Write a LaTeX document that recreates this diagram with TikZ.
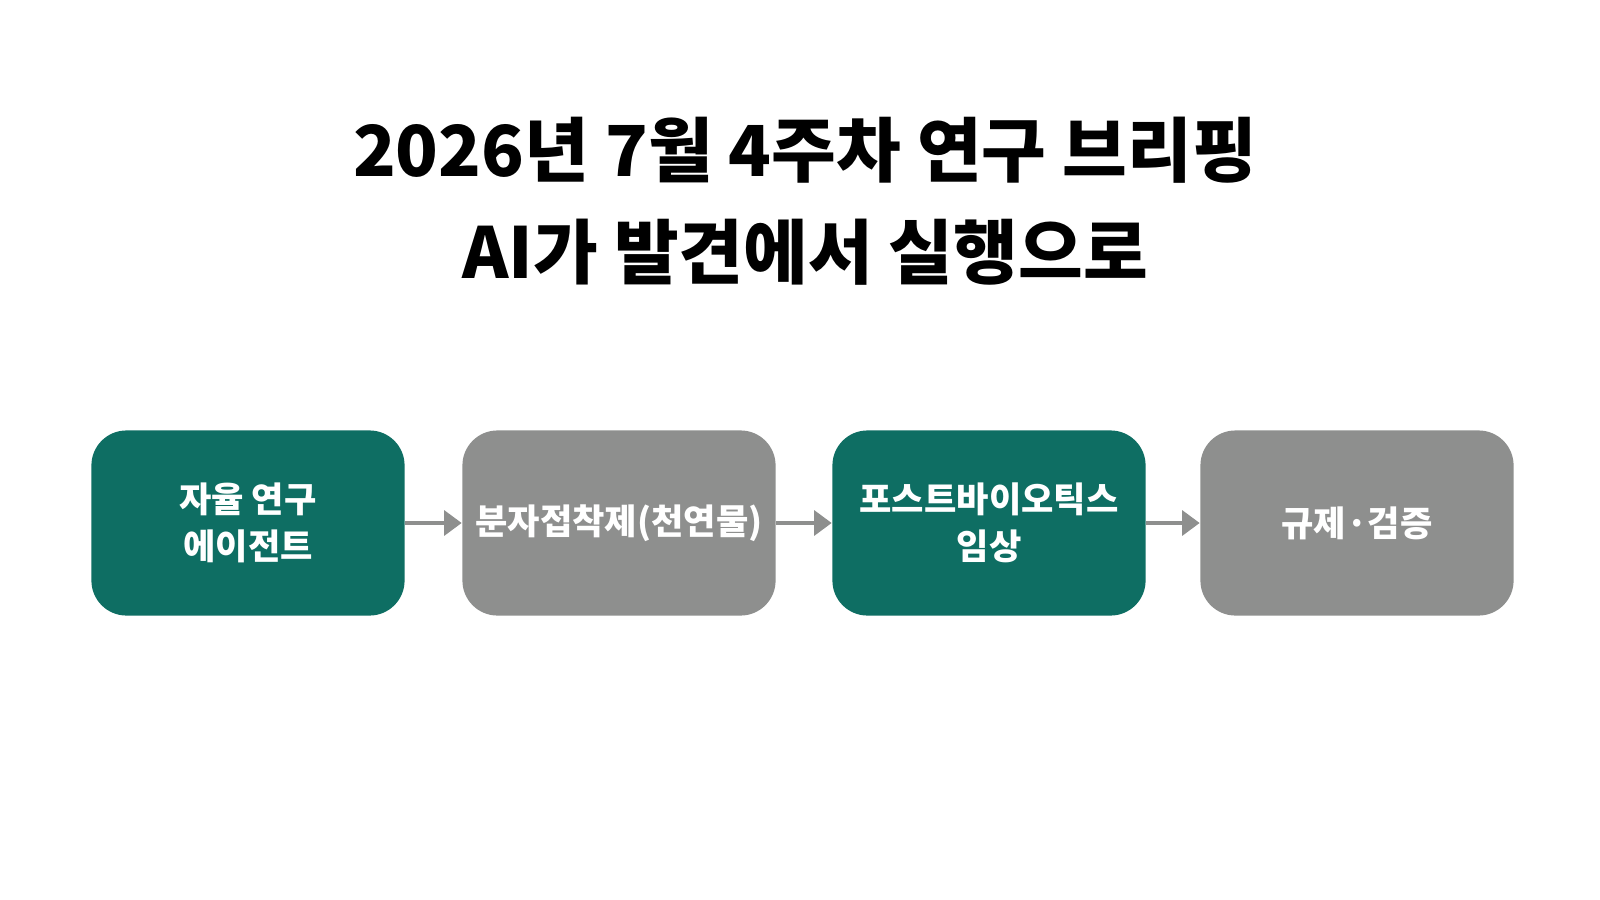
\documentclass[tikz,border=0pt]{standalone}
\usepackage{fontspec}
\setmainfont{Noto Sans CJK KR}
\usetikzlibrary{arrows.meta}
\definecolor{teal}{HTML}{0E6E63}
\definecolor{gry}{HTML}{8E8F8E}
\begin{document}
\begin{tikzpicture}[x=0.01cm,y=-0.01cm,
  box/.style={draw=none,rounded corners=0.35cm,inner sep=0pt,minimum width=3.13cm,minimum height=1.85cm,text=white,align=center,font=\fontsize{10}{13.5}\selectfont\bfseries},
  arr/.style={draw=gry,line width=1.3pt,-{Triangle[length=5pt,width=7pt]}}]
\useasboundingbox (0,0) rectangle (1600,900);
\fill[white] (0,0) rectangle (1600,900);
\node (t1) at (805,150) {\fontsize{20}{24}\selectfont\bfseries 2026년 7월 4주차 연구 브리핑};
\node (t2) at (805,252) {\fontsize{20}{24}\selectfont\bfseries AI가 발견에서 실행으로};
\node[box,fill=teal] (b1) at (248,523) {자율 연구\\에이전트};
\node[box,fill=gry] (b2) at (619,523) {분자접착제(천연물)};
\node[box,fill=teal] (b3) at (989,523) {포스트바이오틱스\\임상};
\node[box,fill=gry] (b4) at (1357,523) {규제·검증};
\draw[arr] (b1) -- (b2);
\draw[arr] (b2) -- (b3);
\draw[arr] (b3) -- (b4);
\end{tikzpicture}
\end{document}
